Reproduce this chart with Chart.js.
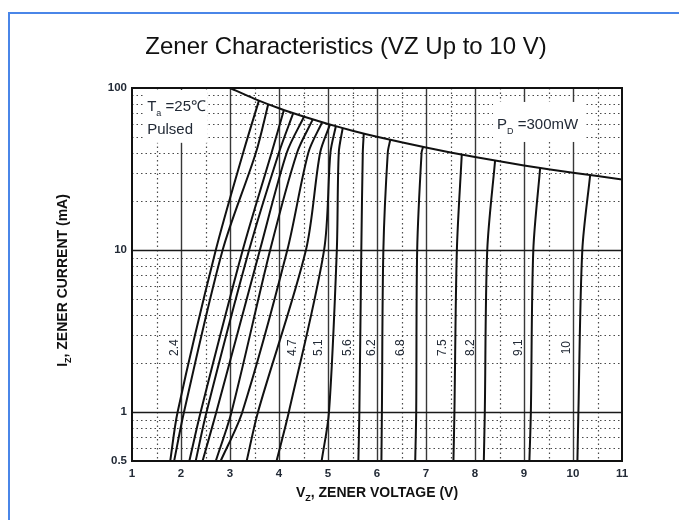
<!DOCTYPE html>
<html>
<head>
<meta charset="utf-8">
<script src="https://cdn.jsdelivr.net/npm/chart.js@4.4.1/dist/chart.umd.min.js"></script>
<style>
  html, body { margin: 0; padding: 0; background: #fff; }
  canvas { display: block; }
</style>
</head>
<body>
<canvas id="zener" width="679" height="520"></canvas>
<script>
// ---- Zener I–V family (pulsed, Ta = 25 °C) ----
// Voltage of every diode at the common sample currents below
// (null where that current lies beyond the 300 mW limit).
const sampleCurrents = [0.5, 1, 10, 40]; // mA
const diodeVoltages = [
  [1.78, 1.93, 2.71, 3.27],
  [1.86, 2.06, 2.85, 3.53],
  [2.17, 2.40, 3.26, 3.85],
  [2.30, 2.52, 3.39, 4.00],
  [2.44, 2.72, 3.61, 4.16],
  [2.71, 3.03, 3.82, 4.37],
  [2.81, 3.25, 4.17, 4.60],
  [3.34, 3.57, 4.55, 4.84],
  [3.95, 4.20, 4.92, 5.05],
  [4.87, 5.02, 5.18, 5.22],
  [5.62, 5.64, 5.68, 5.71],
  [6.09, 6.10, 6.13, 6.22],
  [6.78, 6.80, 6.82, 6.91],
  [7.56, 7.58, 7.63, null],
  [8.18, 8.20, 8.25, null],
  [9.11, 9.14, 9.19, null],
  [10.09, 10.11, 10.19, null]
];
// Where each characteristic meets the 300 mW dissipation limit
const endVoltage = [3.59, 3.78, 4.10, 4.29, 4.51, 4.69, 4.88, 5.04, 5.16, 5.30, 5.73, 6.27, 6.94, 7.73, 8.41, 9.33, 10.35];
const endCurrent = [83.6, 79.4, 73.2, 69.9, 66.5, 64.0, 61.5, 59.5, 58.1, 56.6, 52.4, 47.8, 43.2, 38.8, 35.7, 32.2, 29.0];

// Power limit PD = 300 mW
const powerVoltage = [3, 3.5, 4, 4.5, 5, 5.5, 6, 7, 8, 9, 10, 11];
const powerCurrent = [100, 85.7, 75, 66.7, 60, 54.5, 50, 42.9, 37.5, 33.3, 30, 27.3];

// Nominal-voltage tags written beside the curves
const tagText = ['2.4', '4.7', '5.1', '5.6', '6.2', '6.8', '7.5', '8.2', '9.1', '10'];
const tagVoltage = [1.88, 4.28, 4.82, 5.41, 5.89, 6.48, 7.35, 7.91, 8.90, 9.88];
const tagCurrent = 2.5;

// Axes
const xTickValues = [1, 2, 3, 4, 5, 6, 7, 8, 9, 10, 11];
const yTickValues = [0.5, 1, 10, 100];
const xMajorLines = [2, 3, 4, 5, 6, 7, 8, 9, 10];
const xMinorLines = [1.5, 2.5, 3.5, 4.5, 5.5, 6.5, 7.5, 8.5, 9.5, 10.5];
const yMajorLines = [1, 10];
const yMinorLines = [0.6, 0.7, 0.8, 0.9, 2, 3, 4, 5, 6, 7, 8, 9, 20, 30, 40, 50, 60, 70, 80, 90];

const FONT = "'Liberation Sans', Arial, Helvetica, sans-serif";
const INK = '#222a36';

// draw a run of text pieces, some of them as subscripts
function drawRich(ctx, pieces, x, y, size, weight, align) {
  const subSize = Math.round(size * 0.62);
  let total = 0;
  const widths = pieces.map(p => {
    ctx.font = `${weight} ${p.sub ? subSize : size}px ${FONT}`;
    const w = ctx.measureText(p.t).width;
    total += w;
    return w;
  });
  let cx = align === 'center' ? x - total / 2 : x;
  const start = cx;
  ctx.textAlign = 'left';
  ctx.textBaseline = 'alphabetic';
  pieces.forEach((p, i) => {
    ctx.font = `${weight} ${p.sub ? subSize : size}px ${FONT}`;
    ctx.fillText(p.t, cx, p.sub ? y + size * 0.32 : y);
    cx += widths[i];
  });
  return { left: start, right: start + total };
}

const datasets = diodeVoltages.map((vs, i) => {
  const pts = [];
  sampleCurrents.forEach((c, k) => { if (vs[k] !== null) pts.push({ x: vs[k], y: c }); });
  pts.push({ x: endVoltage[i], y: endCurrent[i] });
  return {
    data: pts,
    borderColor: '#111',
    borderWidth: 2,
    pointRadius: 0,
    showLine: true,
    tension: 0.3,
    fill: false
  };
});
datasets.push({
  data: powerVoltage.map((v, k) => ({ x: v, y: powerCurrent[k] })),
  borderColor: '#111',
  borderWidth: 2,
  pointRadius: 0,
  showLine: true,
  tension: 0.2,
  fill: false
});

const pageFrame = {
  id: 'pageFrame',
  beforeDraw(chart) {
    const ctx = chart.ctx;
    ctx.save();
    ctx.fillStyle = '#fff';
    ctx.fillRect(0, 0, chart.width, chart.height);
    ctx.strokeStyle = '#4a86e8';
    ctx.lineWidth = 2;
    ctx.beginPath();
    ctx.moveTo(9, 520);
    ctx.lineTo(9, 13);
    ctx.lineTo(679, 13);
    ctx.stroke();
    ctx.restore();
  }
};

const plotGrid = {
  id: 'plotGrid',
  beforeDatasetsDraw(chart) {
    const { ctx, chartArea: a, scales: { x, y } } = chart;
    const vLine = (v) => { const p = Math.round(x.getPixelForValue(v)) + 0.5; ctx.beginPath(); ctx.moveTo(p, a.top); ctx.lineTo(p, a.bottom); ctx.stroke(); };
    const hLine = (v) => { const p = Math.round(y.getPixelForValue(v)) + 0.5; ctx.beginPath(); ctx.moveTo(a.left, p); ctx.lineTo(a.right, p); ctx.stroke(); };
    ctx.save();
    ctx.setLineDash([1.5, 3]);
    ctx.strokeStyle = '#4a4a4a';
    ctx.lineWidth = 1.2;
    xMinorLines.forEach(vLine);
    yMinorLines.forEach(hLine);
    ctx.setLineDash([]);
    ctx.strokeStyle = '#383838';
    ctx.lineWidth = 1.4;
    xMajorLines.forEach(vLine);
    ctx.strokeStyle = '#1a1a1a';
    ctx.lineWidth = 1.6;
    yMajorLines.forEach(hLine);
    ctx.lineWidth = 2;
    ctx.strokeStyle = '#111';
    ctx.strokeRect(a.left, a.top, a.right - a.left, a.bottom - a.top);

    // condition notes with a clear backing
    const tX = x.getPixelForValue(1.31);
    const tY = y.getPixelForValue(77);
    const pY = y.getPixelForValue(56);
    ctx.fillStyle = '#fff';
    ctx.fillRect(tX - 4, a.top + 2, 64, pY + 14 - a.top - 2);
    const dX = x.getPixelForValue(8.45);
    const dY = y.getPixelForValue(60);
    ctx.fillRect(dX - 4, dY - 22, 92, 40);

    ctx.fillStyle = INK;
    drawRich(ctx, [{ t: 'T' }, { t: 'a', sub: true }, { t: ' =25\u2103' }], tX, tY + 5, 15, 'normal', 'left');
    drawRich(ctx, [{ t: 'Pulsed' }], tX, pY + 5, 15, 'normal', 'left');
    drawRich(ctx, [{ t: 'P' }, { t: 'D', sub: true }, { t: ' =300mW' }], dX, dY + 5, 15, 'normal', 'left');

    // nominal voltage tags
    ctx.font = `normal 12px ${FONT}`;
    ctx.textAlign = 'center';
    ctx.textBaseline = 'middle';
    tagText.forEach((t, i) => {
      ctx.save();
      ctx.translate(x.getPixelForValue(tagVoltage[i]), y.getPixelForValue(tagCurrent));
      ctx.rotate(-Math.PI / 2);
      ctx.fillText(t, 0, 0);
      ctx.restore();
    });
    ctx.restore();
  }
};

const axisTitles = {
  id: 'axisTitles',
  afterDraw(chart) {
    const { ctx, chartArea: a } = chart;
    ctx.save();
    ctx.fillStyle = '#111';
    drawRich(ctx, [{ t: 'V' }, { t: 'Z', sub: true }, { t: ', ZENER VOLTAGE (V)' }], (a.left + a.right) / 2, 497, 14, 'bold', 'center');
    ctx.translate(67, (a.top + a.bottom) / 2 + 6);
    ctx.rotate(-Math.PI / 2);
    drawRich(ctx, [{ t: 'I' }, { t: 'Z', sub: true }, { t: ', ZENER CURRENT (mA)' }], 0, 0, 14, 'bold', 'center');
    ctx.restore();
  }
};

new Chart(document.getElementById('zener'), {
  type: 'scatter',
  data: { datasets },
  plugins: [pageFrame, plotGrid, axisTitles],
  options: {
    responsive: false,
    animation: false,
    events: [],
    layout: { padding: { left: 70, right: 57, top: 33, bottom: 0 } },
    plugins: {
      legend: { display: false },
      tooltip: { enabled: false },
      title: {
        display: true,
        text: 'Zener Characteristics (VZ Up to 10 V)',
        color: '#111',
        font: { family: FONT, size: 24, weight: 'normal', lineHeight: 1.2 },
        padding: { top: 0, bottom: 26.2 }
      }
    },
    scales: {
      x: {
        type: 'linear',
        min: 1,
        max: 11,
        grid: { display: false, drawTicks: false },
        border: { display: false },
        afterBuildTicks: s => { s.ticks = xTickValues.map(v => ({ value: v })); },
        afterFit: s => { s.height = 59; },
        ticks: {
          padding: 6,
          color: INK,
          font: { family: FONT, size: 11.5, weight: 'bold' },
          callback: v => String(v)
        }
      },
      y: {
        type: 'logarithmic',
        min: 0.5,
        max: 100,
        grid: { display: false, drawTicks: false },
        border: { display: false },
        afterBuildTicks: s => { s.ticks = yTickValues.map(v => ({ value: v })); },
        afterFit: s => { s.width = 62; },
        ticks: {
          padding: 5,
          color: INK,
          font: { family: FONT, size: 11.5, weight: 'bold' },
          callback: v => String(v)
        }
      }
    }
  }
});
</script>
</body>
</html>
